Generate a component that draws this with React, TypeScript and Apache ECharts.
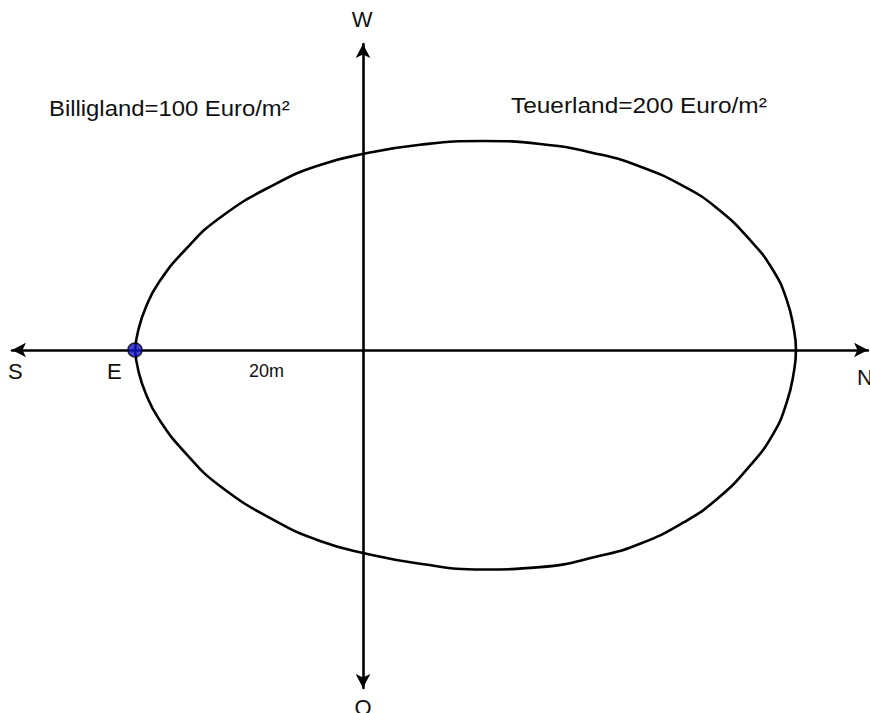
import React, { useEffect, useRef } from "react";
import * as echarts from "echarts";

// Egg-shaped boundary, in metres (origin = axis crossing, E at -20 m)
const upperX = [-20, -19.71, -19.04, -17.94, -15.61, -12.46, -7.57, -3.77, 0, 5.0, 10.53, 15.53, 20.79, 24.3, 28.07, 31.03, 33.95, 35.96, 37.17, 37.81, 37.98];
const upperY = [0, 1.75, 3.77, 5.88, 8.77, 11.67, 14.62, 16.23, 17.19, 18.0, 18.33, 18.07, 17.15, 16.1, 14.39, 12.46, 9.65, 7.02, 4.39, 1.75, 0];
const lowerY = [0, -1.8, -3.87, -6.0, -9.0, -12.0, -15.05, -16.75, -17.8, -18.75, -19.25, -19.05, -18.05, -17.0, -15.15, -13.1, -10.15, -7.4, -4.6, -1.85, 0];

const pointE = [-20, 0];

const directionLabels = ["W", "O", "S", "N"];
const pointLabel = "E";
const distanceLabel = "20m";
const regionLabels = ["Billigland=100 Euro/m²", "Teuerland=200 Euro/m²"];

const xRange = [-30.79, 44.3];
const yRange = [-29.65, 26.84];

const FONT = "'Liberation Sans', Arial, Helvetica, sans-serif";

export default function App() {
  const ref = useRef<HTMLDivElement>(null);
  useEffect(() => {
    if (!ref.current) return;
    const chart = echarts.init(ref.current, undefined, { renderer: "svg" });

    const curve: number[][] = [];
    for (let i = 0; i < upperX.length; i++) curve.push([upperX[i], upperY[i]]);
    for (let i = upperX.length - 2; i >= 0; i--) curve.push([upperX[i], lowerY[i]]);

    const axisCommon = {
      type: "value" as const,
      axisLine: {
        onZero: true,
        symbol: ["arrow", "arrow"],
        symbolSize: [11, 14],
        lineStyle: { color: "#000", width: 2.6 },
      },
      axisTick: { show: false },
      axisLabel: { show: false },
      splitLine: { show: false },
    };

    const txt = (text: string, x: number, y: number, size: number, align: string, scaleX = 1) => ({
      type: "text",
      x,
      y,
      scaleX,
      style: {
        text,
        fill: "#111",
        fontSize: size,
        fontFamily: FONT,
        align,
        verticalAlign: "middle",
      },
      z: 100,
    });

    chart.setOption({
      animation: false,
      backgroundColor: "#fff",
      grid: { left: 12, right: 2, top: 44, bottom: 25, containLabel: false },
      xAxis: { ...axisCommon, min: xRange[0], max: xRange[1] },
      yAxis: { ...axisCommon, min: yRange[0], max: yRange[1] },
      series: [
        {
          type: "line",
          data: curve,
          smooth: 0.5,
          showSymbol: false,
          lineStyle: { color: "#000", width: 2.6 },
          z: 3,
        },
        {
          type: "scatter",
          data: [pointE],
          symbolSize: 14,
          itemStyle: { color: "#1414c8", borderColor: "#000", borderWidth: 1.5 },
          z: 5,
        },
      ],
      graphic: [
        txt(directionLabels[0], 362, 19, 22, "center"),
        txt(directionLabels[1], 363, 707, 22, "center"),
        txt(directionLabels[2], 8, 371, 22, "left"),
        txt(directionLabels[3], 857, 377, 22, "left"),
        txt(pointLabel, 107, 371, 22, "left"),
        txt(distanceLabel, 249, 371, 18, "left"),
        txt(regionLabels[0], 49, 108, 22, "left", 1.085),
        txt(regionLabels[1], 511, 105, 22, "left", 1.11),
      ],
    });
    return () => chart.dispose();
  }, []);
  return (
    <div
      ref={ref}
      style={{ position: "absolute", left: 0, top: 0, width: 870, height: 713 }}
    />
  );
}
